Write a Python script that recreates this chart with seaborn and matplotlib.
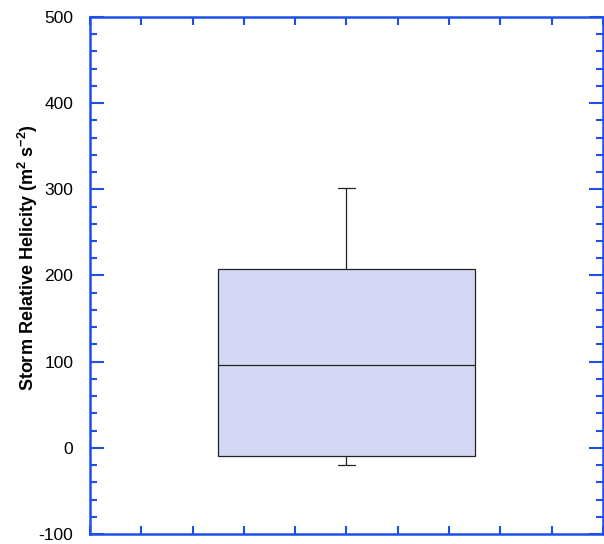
from matplotlib import pyplot as plt
from matplotlib.ticker import MultipleLocator, NullFormatter
import numpy as np
import pandas as pd
import seaborn as sns

# five-number summary of the storm relative helicity values
srh_values = [-20, -10, 96, 208, 301]
group = ["all"] * len(srh_values)

sns.set_style("white")
plt.rcParams['font.family'] = ['Liberation Sans', 'DejaVu Sans']
plt.rcParams['axes.unicode_minus'] = False
plt.rcParams['mathtext.fontset'] = 'custom'
plt.rcParams['mathtext.bf'] = 'Liberation Sans:bold'
plt.rcParams['mathtext.default'] = 'bf'

spine_blue = "#1c50e6"

df = pd.DataFrame({"group": group, "srh": srh_values})

fig = plt.figure(figsize=(6.04, 5.44), dpi=100)
ax = fig.add_axes([0.149, 0.0184, 0.849, 0.9504])

sns.boxplot(data=df, x="group", y="srh", ax=ax, width=0.5, whis=np.inf,
            color="#d4d8f5", saturation=1, linecolor="#222222", linewidth=0.9)

# shorten the whisker caps
for line in ax.lines:
    xd = np.asarray(line.get_xdata(), dtype=float)
    yd = np.asarray(line.get_ydata(), dtype=float)
    if len(xd) == 2 and yd[0] == yd[1] and yd[0] in (srh_values[0], srh_values[-1]):
        line.set_xdata([-0.0165, 0.0165])

ax.set_xlim(-0.5, 0.5)
ax.set_ylim(-100, 500)
ax.set_xlabel("")
ax.set_ylabel("Storm Relative Helicity (m$^2$ s$^{-2}$)", fontsize=13,
              fontweight="bold", color="black")
ax.yaxis.set_label_coords(-0.097, 0.535)

ax.xaxis.set_major_locator(MultipleLocator(0.1))
ax.xaxis.set_major_formatter(NullFormatter())
ax.yaxis.set_major_locator(MultipleLocator(100))
ax.yaxis.set_minor_locator(MultipleLocator(20))

ax.tick_params(axis="x", which="major", direction="in", length=6, width=1.5,
               color=spine_blue, top=True, bottom=True)
ax.tick_params(axis="y", which="major", direction="in", length=10, width=1.5,
               color=spine_blue, left=True, right=True, labelsize=12.5, pad=12,
               labelcolor="black")
ax.tick_params(axis="y", which="minor", direction="in", length=5, width=1.5,
               color=spine_blue, left=True, right=True)

for side in ["left", "right", "top", "bottom"]:
    ax.spines[side].set_visible(True)
    ax.spines[side].set_color(spine_blue)
    ax.spines[side].set_linewidth(1.8)

fig.savefig("out.png", dpi=100)
